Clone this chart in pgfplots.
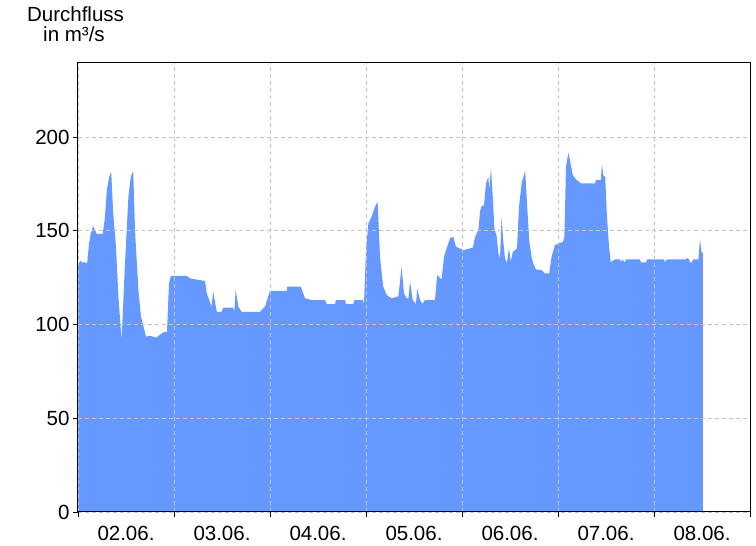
\documentclass[border=0pt]{standalone}
\usepackage{pgfplots}
\pgfplotsset{compat=1.18}
\usepackage{fontspec}
\setmainfont{Liberation Sans}
\definecolor{flowblue}{RGB}{102,153,255}
\definecolor{gridgray}{RGB}{195,195,195}
\begin{document}
\begin{tikzpicture}
\useasboundingbox (-78pt,-34pt) rectangle (678pt,512pt);
\begin{axis}[
  at={(0pt,0pt)}, anchor=south west,
  scale only axis, width=672pt, height=449pt,
  xmin=0, xmax=168, ymin=0, ymax=239.5,
  xtick={0,24,...,168},
  xticklabels={02.06.,03.06.,04.06.,05.06.,06.06.,07.06.,08.06.},
  x tick label as interval=true,
  ytick={0,50,100,150,200},
  tick pos=left, tick align=outside,
  major tick length=5pt,
  grid=major,
  major grid style={gridgray, dash pattern=on 4pt off 3pt, line width=0.8pt},
  axis line style={black, line width=1pt},
  tick style={black, line width=0.9pt},
  axis on top,
  /pgf/number format/assume math mode=true,
  tick label style={font=\fontsize{20.5}{23}\selectfont},
  yticklabel style={xshift=0pt},
  xticklabel style={yshift=-5.5pt},
]
\addplot[fill=flowblue, draw=none] coordinates {
(0,132.6) (0.75,134) (1.2,132.6) (1.5,133.5) (2,132.6) (2.3,133)
(2.75,143) (3.2,148.6) (3.8,152.5) (4.7,148.3) (6.2,148.3)
(6.75,157.5) (7.2,171.7) (7.8,178.8) (8.3,181.5) (8.8,159.4)
(9.5,141.5) (10.1,114.8) (10.9,91.7) (11.75,132.6) (12.6,168)
(13.2,178.8) (13.8,182) (14.25,150.4) (15.1,118.4) (15.75,104.2)
(17,93.5) (18,94) (19.5,93) (20.5,94.5) (21.3,95.8) (22.25,96)
(22.75,122) (23.25,126) (27.2,126) (28,124.6) (31.75,123.2)
(32.2,116.6) (33.4,109.5) (33.8,117.5) (34.7,106.8) (35.9,106.8)
(36.3,109) (38.8,109) (39.1,106.8) (39.4,118.4) (40.1,109.5)
(40.9,106.8) (45.5,106.8) (46.75,109.5) (47.6,115.4) (48,118)
(52.2,118) (52.3,120.2) (55.7,120.2) (56.75,114) (58.4,113)
(61.75,113) (62.2,110.9) (64.25,110.9) (64.5,113) (66.75,113)
(67,110.9) (68.8,110.9) (69.1,113) (71.2,113) (71.5,111)
(72,139.7) (72.6,154) (73.4,157.5) (74.25,162.8) (74.9,165.5)
(75.5,136.2) (76.3,120.2) (77.2,115.7) (78.4,114) (80.1,115)
(80.9,130.8) (81.5,116.6) (82.2,114) (82.6,114) (83,122.8)
(83.7,113) (84.5,111) (84.8,119.3) (85.5,113) (86.1,111)
(86.75,113) (89.25,113) (89.8,126.4) (90.9,124.1) (91.5,136.2)
(92.3,141.5) (93,146) (93.8,146.8) (94.5,141.5) (96.3,139.7)
(98.7,141) (99.25,146.5) (100.1,150.4) (100.5,160.2) (100.9,163.2)
(101.5,163.5) (102,175.3) (102.6,178.8) (102.8,171.7) (103.25,183.3)
(103.7,168) (104.1,151.3) (104.7,146.8) (105.1,138) (105.5,135.3)
(105.9,157.5) (106.3,145) (106.75,135.3) (107.2,132.6) (107.75,140.6)
(108.2,133.5) (108.7,138.8) (109.25,139.7) (109.75,140.6)
(110.25,162.8) (110.9,175.3) (111.8,182) (112.3,162.8) (112.8,145)
(113.4,136) (113.8,132.6) (114.5,129.4) (115.9,129) (116.75,127.3)
(117.8,127.3) (118.4,136.2) (119.25,142.4) (120.1,143.3) (121.2,144)
(121.6,146.8) (122,184.2) (122.6,191.6) (123,187.7) (123.7,179.7)
(124.5,177.4) (125.75,175.3) (129.25,175.3) (129.5,177) (130.7,177)
(131,185.6) (131.3,179.7) (131.8,178.8) (132.2,159.3) (132.75,141.5)
(133.2,133.2) (134.25,134.8) (135.5,134.8) (135.75,133.2) (136,134.8)
(136.75,133.2) (137,134.8) (140.5,134.8) (140.75,133.2) (142,133.2)
(142.25,134.8) (146.5,134.8) (146.75,133.2) (147.25,134.8)
(152,134.8) (152.25,135.5) (152.75,134.8) (153,133.2) (153.5,133.2)
(153.75,134.8) (155.1,134.8) (155.5,145.4) (155.9,138.3) (156.2,138.3)
} \closedcycle;
\end{axis}
\node[anchor=base, font=\fontsize{20.5}{23}\selectfont] at (-2.5pt,490pt) {Durchfluss};
\node[anchor=base, font=\fontsize{20.5}{23}\selectfont] at (-4pt,470pt) {in m³/s};
\end{tikzpicture}
\end{document}
